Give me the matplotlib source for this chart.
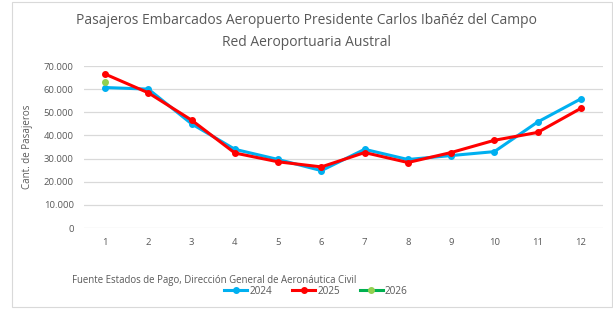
import matplotlib.pyplot as plt
from matplotlib.ticker import FuncFormatter
from matplotlib.patches import Rectangle

plt.rcParams['font.family'] = ['Open Sans', 'DejaVu Sans']

meses = [1, 2, 3, 4, 5, 6, 7, 8, 9, 10, 11, 12]
pax_2024 = [60700, 60000, 45000, 34000, 29600, 24800, 34000, 29600, 31300, 33000, 45800, 55800]
pax_2025 = [66500, 58400, 46600, 32400, 28600, 26400, 32600, 28300, 32600, 37900, 41300, 51700]
meses_2026 = [1]
pax_2026 = [63000]

fig = plt.figure(figsize=(6.13, 3.11), dpi=100)
fig.patches.append(Rectangle((12 / 613, 4 / 311), 600 / 613, 305 / 311, transform=fig.transFigure,
                             fill=False, edgecolor='#d9d9d9', linewidth=0.8))
ax = fig.add_axes([83.5 / 613, 1 - 228 / 311, 519 / 613, 162 / 311])

ax.plot(meses, pax_2024, color='#00b0f0', lw=2.2, marker='o', ms=4, label='2024')
ax.plot(meses, pax_2025, color='#ff0000', lw=2.2, marker='o', ms=4, label='2025')
ax.plot(meses_2026, pax_2026, color='#00b050', lw=2.2, marker='o', ms=4,
        markerfacecolor='#92d050', markeredgecolor='#92d050', label='2026')

ax.set_xlim(0.5, 12.5)
ax.set_ylim(0, 70000)
ax.set_xticks(meses)
ax.set_yticks(range(0, 70001, 10000))
ax.yaxis.set_major_formatter(FuncFormatter(lambda v, p: f'{int(v):,}'.replace(',', '.')))
ax.grid(axis='y', color='#d9d9d9', lw=0.9)
ax.set_axisbelow(True)
for s in ax.spines.values():
    s.set_visible(False)
ax.tick_params(length=0, labelsize=6.8, colors='#595959', pad=7)
ax.set_ylabel('Cant. de Pasajeros', fontsize=7, color='#595959', labelpad=8)

fig.text(0.5, 1 - 21 / 311, 'Pasajeros Embarcados Aeropuerto Presidente Carlos Ibañéz del Campo',
         ha='center', va='center', fontsize=10, color='#595959')
fig.text(0.5, 1 - 43 / 311, 'Red Aeroportuaria Austral', ha='center', va='center',
         fontsize=10, color='#595959')
fig.text(72 / 613, 1 - 281 / 311, 'Fuente Estados de Pago, Dirección General de Aeronáutica Civil',
         ha='left', va='center', fontsize=6.9, color='#595959')

fig.legend(loc='center', bbox_to_anchor=(316 / 613, 1 - 291 / 311), ncol=3, frameon=False,
           fontsize=7.2, labelcolor='#595959', handlelength=2.3, columnspacing=2.0,
           handletextpad=0.2, borderpad=0)

fig.savefig('out.png', dpi=100)
